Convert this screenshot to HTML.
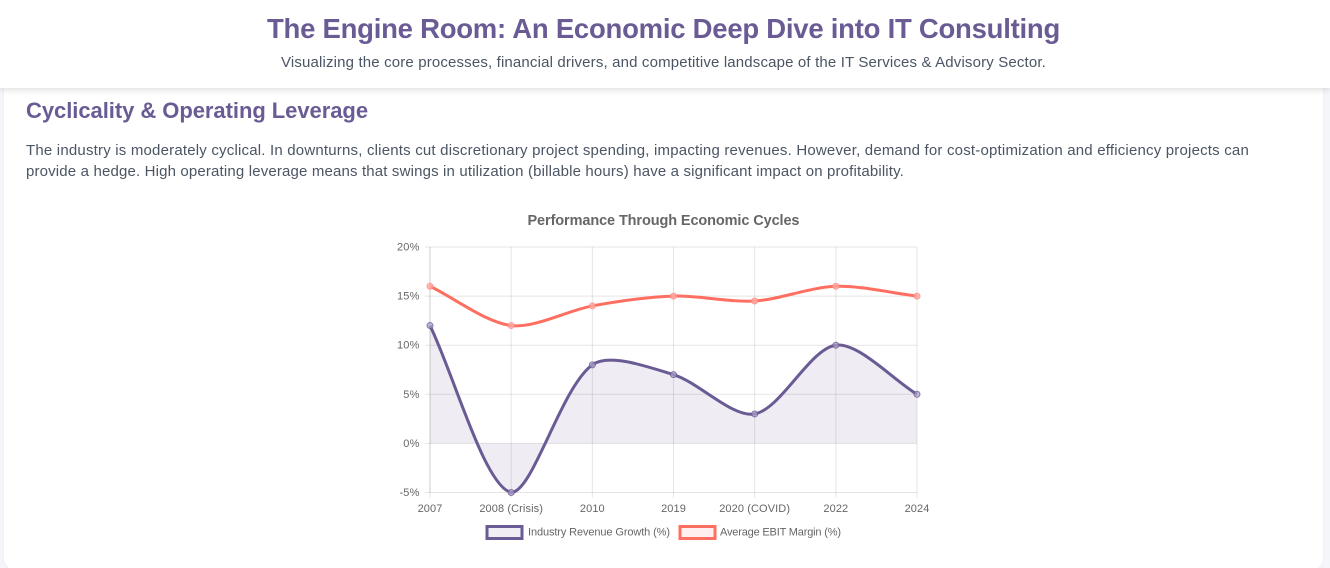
<!DOCTYPE html>
<html lang="en">
<head>
<meta charset="utf-8">
<title>The Engine Room: An Economic Deep Dive into IT Consulting</title>
<style>
html,body{margin:0;padding:0;width:1330px;height:568px;overflow:hidden;background:#f5f6fa;font-family:"Liberation Sans",sans-serif;}
#page{position:relative;width:1330px;height:568px;overflow:hidden;}
#card{position:absolute;left:4px;top:60px;width:1319px;height:510px;background:#fff;border-radius:12px;box-shadow:0 1px 3px rgba(0,0,0,.04);}
#header{position:absolute;left:0;top:0;width:1330px;height:88px;background:#fff;box-shadow:0 2px 6px rgba(0,0,0,.13);}
.t{position:absolute;margin:0;white-space:nowrap;line-height:1;transform-origin:0 0;}
#title{left:267px;top:14.5px;font-size:27.5px;font-weight:700;color:#6b5b95;}
#subtitle{left:281px;top:55px;font-size:15px;color:#4b5563;}
#section-title{left:26px;top:99.5px;font-size:22px;font-weight:700;color:#6b5b95;}
#line1{left:26px;top:143px;font-size:15px;color:#4b5563;}
#line2{left:26px;top:164px;font-size:15px;color:#4b5563;}
#chart{position:absolute;left:0;top:0;width:1330px;height:568px;}
</style>
</head>
<body>
<div id="page">
<div id="card"></div>
<div id="header"></div>
<h1 class="t" id="title" data-fit="793">The Engine Room: An Economic Deep Dive into IT Consulting</h1>
<p class="t" id="subtitle" data-fit="765">Visualizing the core processes, financial drivers, and competitive landscape of the IT Services &amp; Advisory Sector.</p>
<h2 class="t" id="section-title" data-fit="342">Cyclicality &amp; Operating Leverage</h2>
<p class="t" id="line1" data-fit="1223">The industry is moderately cyclical. In downturns, clients cut discretionary project spending, impacting revenues. However, demand for cost-optimization and efficiency projects can</p>
<p class="t" id="line2" data-fit="878">provide a hedge. High operating leverage means that swings in utilization (billable hours) have a significant impact on profitability.</p>

<svg id="chart" viewBox="0 0 1330 568" xmlns="http://www.w3.org/2000/svg">
  <text x="663.5" y="225" text-anchor="middle" textLength="272" font-size="14.5" font-weight="700" fill="#666">Performance Through Economic Cycles</text>
  <g id="grid"></g>
  <g id="ticks"></g>
  <g id="series"></g>
  <g>
    <rect x="487" y="526.5" width="35" height="12" fill="rgba(107,91,149,.1)" stroke="#6b5b95" stroke-width="3"/>
    <text x="528" y="535.5" textLength="142" font-size="11" fill="#666">Industry Revenue Growth (%)</text>
    <rect x="680" y="526.5" width="35" height="12" fill="rgba(255,111,97,.1)" stroke="#ff6f61" stroke-width="3"/>
    <text x="720" y="535.5" textLength="121" font-size="11" fill="#666">Average EBIT Margin (%)</text>
  </g>
</svg>
</div>

<script>
const categories = ['2007', '2008 (Crisis)', '2010', '2019', '2020 (COVID)', '2022', '2024'];
const revenueGrowth = [12, -5, 8, 7, 3, 10, 5];
const ebitMargin = [16, 12, 14, 15, 14.5, 16, 15];
const yTickValues = [20, 15, 10, 5, 0, -5];

const plot = { left: 430, right: 917, top: 247, bottom: 492.5 };
const yMax = 20;
const yMin = -5;
const NS = 'http://www.w3.org/2000/svg';

function xScale(i) {
  return plot.left + (plot.right - plot.left) * i / (categories.length - 1);
}
function yScale(v) {
  return plot.top + (plot.bottom - plot.top) * (yMax - v) / (yMax - yMin);
}
function make(tag, attrs, parent) {
  const el = document.createElementNS(NS, tag);
  Object.keys(attrs).forEach(function (k) { el.setAttribute(k, attrs[k]); });
  parent.appendChild(el);
  return el;
}
function clamp(v, lo, hi) {
  return Math.max(lo, Math.min(hi, v));
}
/* Cardinal spline matching the source chart's curve tension */
function curvePath(values) {
  const tension = 0.3;
  const pts = values.map(function (v, i) { return { x: xScale(i), y: yScale(v) }; });
  const ctrl = pts.map(function (p, i) {
    const prev = pts[Math.max(i - 1, 0)];
    const next = pts[Math.min(i + 1, pts.length - 1)];
    const d01 = Math.hypot(p.x - prev.x, p.y - prev.y);
    const d12 = Math.hypot(next.x - p.x, next.y - p.y);
    const total = d01 + d12 || 1;
    const fa = tension * d01 / total;
    const fb = tension * d12 / total;
    return {
      x1: clamp(p.x - fa * (next.x - prev.x), plot.left, plot.right),
      y1: clamp(p.y - fa * (next.y - prev.y), plot.top, plot.bottom),
      x2: clamp(p.x + fb * (next.x - prev.x), plot.left, plot.right),
      y2: clamp(p.y + fb * (next.y - prev.y), plot.top, plot.bottom)
    };
  });
  let d = 'M' + pts[0].x + ' ' + pts[0].y;
  for (let i = 1; i < pts.length; i++) {
    d += ' C' + ctrl[i - 1].x2 + ' ' + ctrl[i - 1].y2 + ' ' + ctrl[i].x1 + ' ' + ctrl[i].y1 + ' ' + pts[i].x + ' ' + pts[i].y;
  }
  return d;
}

const grid = document.getElementById('grid');
const ticks = document.getElementById('ticks');
const series = document.getElementById('series');

yTickValues.forEach(function (v) {
  const y = yScale(v);
  const line = make('line', { x1: plot.left - 5, x2: plot.right, y1: y, y2: y, stroke: 'rgba(0,0,0,.1)', 'stroke-width': 1 }, grid);
  
  
  const label = make('text', { x: plot.left - 10.5, y: y + 3.5, 'text-anchor': 'end', 'font-size': 11, 'letter-spacing': 0.15, fill: '#666' }, ticks);
  label.textContent = v + '%';
  
  
});

categories.forEach(function (c, i) {
  const x = xScale(i);
  const line = make('line', { x1: x, x2: x, y1: plot.top, y2: plot.bottom + 5, stroke: 'rgba(0,0,0,.1)', 'stroke-width': 1 }, grid);
  
  
  const label = make('text', { x: x, y: 512, 'text-anchor': 'middle', 'font-size': 11, 'letter-spacing': 0.1, fill: '#666' }, ticks);
  label.textContent = c;
  
  
});

const axisLine = make('line', { x1: plot.left, x2: plot.left, y1: plot.top, y2: plot.bottom, stroke: 'rgba(0,0,0,.1)', 'stroke-width': 1 }, grid);



const revenueCurve = curvePath(revenueGrowth);
const lastX = xScale(revenueGrowth.length - 1);
const firstX = xScale(0);
const baseY = yScale(0);
const revenueFill = make('path', { d: revenueCurve + ' L' + lastX + ' ' + baseY + ' L' + firstX + ' ' + baseY + ' Z', fill: 'rgba(107,91,149,.11)' }, series);



const revenueLine = make('path', { d: revenueCurve, fill: 'none', stroke: '#6b5b95', 'stroke-width': 3 }, series);



const ebitLine = make('path', { d: curvePath(ebitMargin), fill: 'none', stroke: '#ff6f61', 'stroke-width': 3 }, series);



revenueGrowth.forEach(function (v, i) {
  const dot = make('circle', { cx: xScale(i), cy: yScale(v), r: 3, fill: 'rgba(170,160,200,.7)', stroke: 'rgba(107,91,149,.8)', 'stroke-width': 1 }, series);
  
  
});
ebitMargin.forEach(function (v, i) {
  const dot = make('circle', { cx: xScale(i), cy: yScale(v), r: 3, fill: 'rgba(255,170,162,.8)', stroke: 'rgba(255,140,130,.8)', 'stroke-width': 1 }, series);
  
  
});

/* Fit each HTML text line to its measured width in the layout */
document.querySelectorAll('[data-fit]').forEach(function (el) {
  const target = parseFloat(el.getAttribute('data-fit'));
  const chars = el.textContent.length;
  const width = el.getBoundingClientRect().width;
  el.style.letterSpacing = ((target - width) / chars) + 'px';
});
</script>
</body>
</html>
